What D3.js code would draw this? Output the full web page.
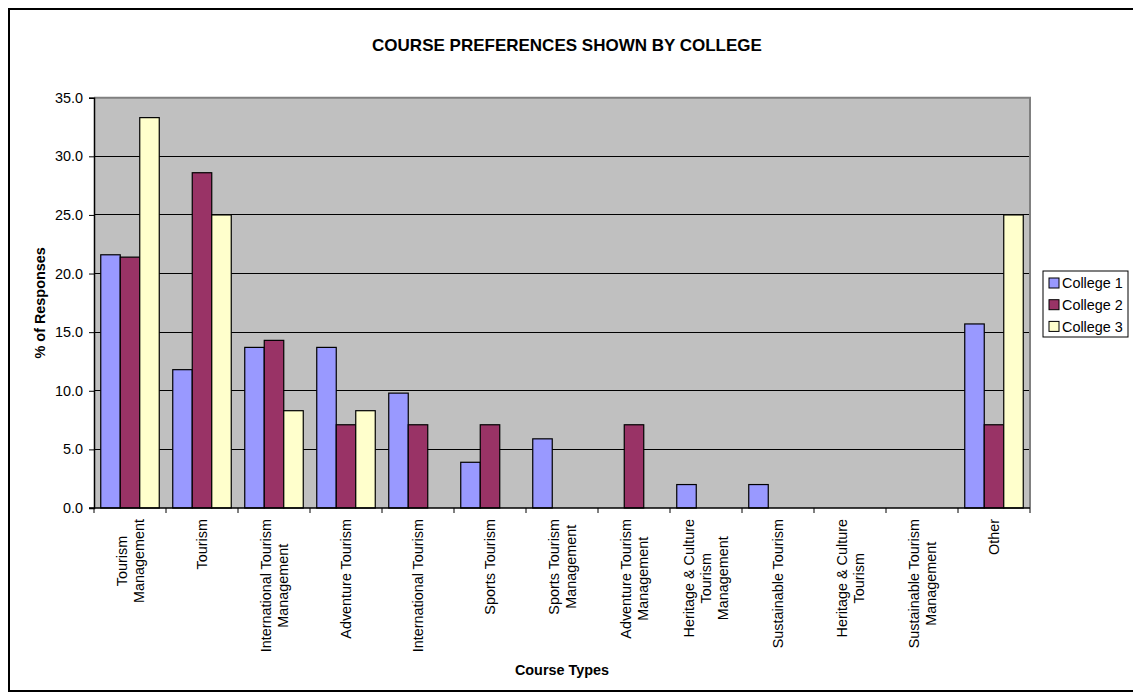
<!DOCTYPE html>
<html>
<head>
<meta charset="utf-8">
<script src="https://cdn.jsdelivr.net/npm/d3@7"></script>
<style>
  html, body { margin: 0; padding: 0; background: #fff; overflow: hidden; }
  svg { display: block; font-family: "Liberation Sans", Arial, sans-serif; }
</style>
</head>
<body>
<div id="chart"></div>
<script>
// Kategorien (Zeilenumbrüche wie im Original)
const categories = [
  'Tourism\nManagement',
  'Tourism',
  'International Tourism\nManagement',
  'Adventure Tourism',
  'International Tourism',
  'Sports Tourism',
  'Sports Tourism\nManagement',
  'Adventure Tourism\nManagement',
  'Heritage & Culture\nTourism\nManagement',
  'Sustainable Tourism',
  'Heritage & Culture\nTourism',
  'Sustainable Tourism\nManagement',
  'Other'
];

const seriesNames = ['College 1', 'College 2', 'College 3'];
const college1 = [21.6, 11.8, 13.7, 13.7, 9.8, 3.9, 5.9, 0, 2.0, 2.0, 0, 0, 15.7];
const college2 = [21.4, 28.6, 14.3, 7.1, 7.1, 7.1, 0, 7.1, 0, 0, 0, 0, 7.1];
const college3 = [33.3, 25.0, 8.3, 8.3, 0, 0, 0, 0, 0, 0, 0, 0, 25.0];
const yTicks = [0, 5, 10, 15, 20, 25, 30, 35];

const seriesColors = ['#9999ff', '#993366', '#ffffcc'];

(function () {
  const W = 1133, H = 697;
  const plot = { left: 94, right: 1030, top: 97.7, bottom: 508 };
  const FS = 14.4;

  const svg = d3.select('#chart').append('svg')
    .attr('width', W).attr('height', H);

  // Rahmen (rechts abgeschnitten)
  svg.append('rect')
    .attr('x', 9).attr('y', 9)
    .attr('width', W + 20).attr('height', 682)
    .attr('fill', '#fff')
    .attr('stroke', '#000')
    .attr('stroke-width', 2);

  const x0 = d3.scaleBand().domain(d3.range(categories.length))
    .range([plot.left, plot.right]).padding(0);
  const x1 = d3.scaleBand().domain(seriesNames)
    .range([0, x0.bandwidth()]).paddingInner(0).paddingOuter(0.346);
  const y = d3.scaleLinear().domain([0, 35]).range([plot.bottom, plot.top]);

  // Plotfläche
  svg.append('rect')
    .attr('x', plot.left).attr('y', plot.top)
    .attr('width', plot.right - plot.left).attr('height', plot.bottom - plot.top)
    .attr('fill', '#c0c0c0');

  // Gitterlinien
  svg.append('g')
    .selectAll('line')
    .data(yTicks.filter(t => t > 0 && t < 35))
    .join('line')
      .attr('x1', plot.left).attr('x2', plot.right)
      .attr('y1', d => y(d)).attr('y2', d => y(d))
      .attr('stroke', '#000').attr('stroke-width', 1)
      .attr('shape-rendering', 'crispEdges');

  // Rand oben / rechts (grau)
  svg.append('path')
    .attr('d', `M${plot.left},${plot.top}H${plot.right}V${plot.bottom}`)
    .attr('fill', 'none').attr('stroke', '#808080').attr('stroke-width', 2);

  // Balken
  const series = [college1, college2, college3];
  const bars = [];
  categories.forEach((c, i) => {
    seriesNames.forEach((s, j) => {
      bars.push({ cat: i, name: s, value: series[j][i], color: seriesColors[j] });
    });
  });

  svg.append('g')
    .selectAll('rect')
    .data(bars.filter(d => d.value > 0))
    .join('rect')
      .attr('x', d => x0(d.cat) + x1(d.name))
      .attr('y', d => y(d.value))
      .attr('width', x1.bandwidth())
      .attr('height', d => y(0) - y(d.value))
      .attr('fill', d => d.color)
      .attr('stroke', '#000')
      .attr('stroke-width', 1.2);

  // Y-Achse
  const yAxis = svg.append('g')
    .attr('transform', `translate(${plot.left},0)`)
    .call(d3.axisLeft(y).tickValues(yTicks).tickSize(5).tickPadding(6)
      .tickFormat(d3.format('.1f')));
  yAxis.select('.domain').attr('stroke', '#000').attr('stroke-width', 1.5);
  yAxis.selectAll('.tick line').attr('stroke', '#000');
  yAxis.selectAll('text')
    .attr('font-size', FS).attr('font-family', '"Liberation Sans", Arial, sans-serif')
    .attr('fill', '#000');

  // X-Achse (Ticks an Kategoriegrenzen)
  svg.append('line')
    .attr('x1', plot.left - 5).attr('x2', plot.right)
    .attr('y1', plot.bottom).attr('y2', plot.bottom)
    .attr('stroke', '#000').attr('stroke-width', 1.5);

  const boundaries = d3.range(categories.length + 1).map(i =>
    i < categories.length ? x0(i) : x0(categories.length - 1) + x0.bandwidth());
  svg.append('g')
    .selectAll('line')
    .data(boundaries)
    .join('line')
      .attr('x1', d => d).attr('x2', d => d)
      .attr('y1', plot.bottom).attr('y2', plot.bottom + 5)
      .attr('stroke', '#000').attr('stroke-width', 1);

  // Kategorie-Beschriftungen (gedreht, mehrzeilig, zentriert)
  const lineH = 17;
  const labelTop = 519;
  const labels = svg.append('g').attr('font-size', FS).attr('fill', '#000');
  categories.forEach((c, i) => {
    const lines = c.split('\n');
    const cx = x0(i) + x0.bandwidth() / 2;
    const g = labels.append('g');
    const texts = lines.map((ln, k) => g.append('text')
      .attr('text-anchor', 'middle')
      .attr('x', 0)
      .attr('y', (k - (lines.length - 1) / 2) * lineH)
      .attr('dy', '0.36em')
      .text(ln));
    const maxLen = d3.max(texts, t => t.node().getComputedTextLength());
    g.attr('transform', `translate(${cx},${labelTop + maxLen / 2}) rotate(-90)`);
  });

  // Titel
  svg.append('text')
    .attr('x', 567).attr('y', 51)
    .attr('text-anchor', 'middle')
    .attr('font-size', 17).attr('font-weight', 'bold')
    .text('COURSE PREFERENCES SHOWN BY COLLEGE');

  // Achsentitel
  svg.append('text')
    .attr('transform', `translate(45,${(plot.top + plot.bottom) / 2}) rotate(-90)`)
    .attr('text-anchor', 'middle')
    .attr('font-size', FS).attr('font-weight', 'bold')
    .text('% of Responses');

  svg.append('text')
    .attr('x', (plot.left + plot.right) / 2).attr('y', 675)
    .attr('text-anchor', 'middle')
    .attr('font-size', FS).attr('font-weight', 'bold')
    .text('Course Types');

  // Legende
  const lg = svg.append('g').attr('transform', 'translate(1043,271)');
  lg.append('rect')
    .attr('width', 85).attr('height', 66)
    .attr('fill', '#fff').attr('stroke', '#000').attr('stroke-width', 1);
  const item = lg.selectAll('g.item')
    .data(seriesNames)
    .join('g')
      .attr('class', 'item')
      .attr('transform', (d, i) => `translate(6,${12 + i * 21.7})`);
  item.append('rect')
    .attr('x', 0).attr('y', -5)
    .attr('width', 10).attr('height', 10)
    .attr('fill', (d, i) => seriesColors[i])
    .attr('stroke', '#000').attr('stroke-width', 1);
  item.append('text')
    .attr('x', 13).attr('dy', '0.36em')
    .attr('font-size', FS)
    .text(d => d);
})();
</script>
</body>
</html>
